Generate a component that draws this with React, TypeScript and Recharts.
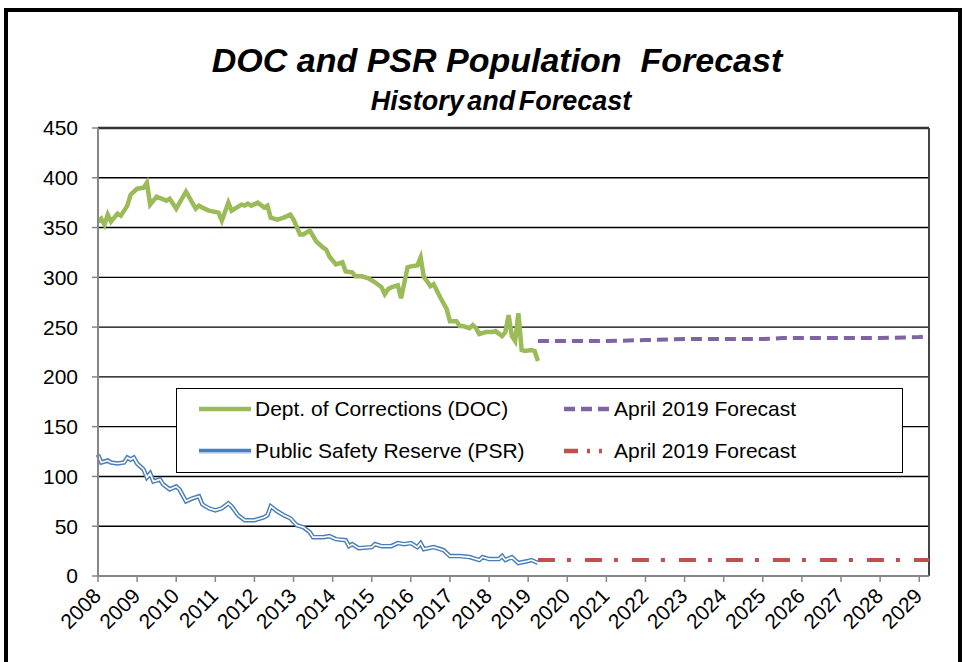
import { CartesianGrid, Line, LineChart, ReferenceLine, XAxis, YAxis } from "recharts";

const FONT = '"Liberation Sans", Arial, sans-serif';
const GREEN = "#9BBB59";
const BLUE = "#4A7EBB";
const PURPLE = "#8064A2";
const RED = "#C0504D";
const AXIS = "#878787";

// Dept. of Corrections, monthly history
const docMonths = [
  "2008-01", "2008-02", "2008-03", "2008-04", "2008-05", "2008-07", "2008-08", "2008-10", "2008-11",
  "2009-01", "2009-03", "2009-04", "2009-05", "2009-07", "2009-10", "2009-11",
  "2010-01", "2010-04", "2010-07", "2010-08", "2010-09", "2010-11",
  "2011-02", "2011-03", "2011-05", "2011-06", "2011-09", "2011-10", "2011-11", "2011-12",
  "2012-02", "2012-04", "2012-05", "2012-06", "2012-08", "2012-10", "2012-12",
  "2013-01", "2013-03", "2013-04", "2013-06", "2013-08", "2013-10", "2013-11", "2013-12",
  "2014-02", "2014-04", "2014-05", "2014-07", "2014-08", "2014-10", "2014-12",
  "2015-02", "2015-04", "2015-05", "2015-06", "2015-07", "2015-09", "2015-10", "2015-12",
  "2016-01", "2016-03", "2016-04", "2016-05", "2016-06", "2016-07", "2016-08", "2016-10", "2016-12",
  "2017-01", "2017-03", "2017-04", "2017-05", "2017-07", "2017-08", "2017-09", "2017-10", "2017-12",
  "2018-02", "2018-03", "2018-05", "2018-06", "2018-07", "2018-08", "2018-09", "2018-10", "2018-11", "2018-12",
  "2019-02", "2019-03", "2019-04",
];
const docValues = [
  356, 359, 353, 363, 356, 364, 362, 372, 383,
  389, 390, 395, 373, 381, 377, 379,
  369, 386, 369, 372, 370, 367,
  365, 357, 375, 367, 373, 372, 374, 372,
  375, 370, 372, 360, 358, 360, 363,
  358, 343, 343, 347, 336, 330, 328, 321,
  313, 315, 306, 305, 301, 301, 299,
  295, 290, 283, 288, 290, 292, 279, 310,
  311, 312, 320, 300, 296, 291, 293, 280, 268,
  256, 256, 251, 251, 249, 252, 249, 243, 245,
  245, 246, 241, 245, 262, 241, 236, 264, 227, 226,
  227, 226, 216,
];

// Public Safety Reserve, monthly history
const psrMonths = [
  "2008-01", "2008-02", "2008-04", "2008-05", "2008-07", "2008-09", "2008-10", "2008-11", "2008-12",
  "2009-01", "2009-03", "2009-04", "2009-05", "2009-06", "2009-08", "2009-09", "2009-11",
  "2010-01", "2010-02", "2010-04", "2010-06", "2010-08", "2010-09", "2010-11",
  "2011-01", "2011-03", "2011-05", "2011-06", "2011-08", "2011-10",
  "2012-01", "2012-04", "2012-05", "2012-06", "2012-08", "2012-10", "2012-12",
  "2013-02", "2013-04", "2013-06", "2013-07", "2013-10", "2013-12",
  "2014-02", "2014-05", "2014-06", "2014-07", "2014-09",
  "2015-01", "2015-02", "2015-04", "2015-07", "2015-09", "2015-11",
  "2016-01", "2016-03", "2016-04", "2016-05", "2016-08", "2016-11",
  "2017-01", "2017-04", "2017-07", "2017-10", "2017-11",
  "2018-01", "2018-04", "2018-05", "2018-06", "2018-08", "2018-10",
  "2019-01", "2019-02", "2019-04",
];
const psrValues = [
  122, 114, 116, 114, 113, 114, 119, 117, 119,
  113, 107, 99, 103, 95, 97, 92, 87,
  90, 87, 75, 78, 80, 72, 68,
  66, 68, 73, 70, 61, 56,
  56, 59, 61, 70, 65, 61, 58,
  51, 49, 44, 39, 39, 40,
  37, 36, 30, 32, 28,
  29, 32, 30, 30, 33, 32,
  33, 29, 33, 27, 29, 26,
  20, 20, 19, 16, 19,
  17, 17, 20, 16, 19, 13,
  15, 16, 13,
];

// April 2019 forecasts
const docForecastMonths = [
  "2019-04", "2020-01", "2021-01", "2022-01", "2023-01", "2024-01", "2025-01",
  "2025-07", "2026-01", "2027-01", "2028-01", "2029-01", "2029-04",
];
const docForecastValues = [236, 236, 236, 237, 238, 238, 238, 239, 239, 239, 239, 240, 241];

const psrForecastMonths = [
  "2019-04", "2020-01", "2021-01", "2022-01", "2023-01", "2024-01", "2025-01",
  "2026-01", "2027-01", "2028-01", "2029-01", "2029-04",
];
const psrForecastValues = [16, 16, 16, 16, 16, 16, 16, 16, 16, 16, 16, 16];

const yearTicks = [
  2008, 2009, 2010, 2011, 2012, 2013, 2014, 2015, 2016, 2017, 2018,
  2019, 2020, 2021, 2022, 2023, 2024, 2025, 2026, 2027, 2028, 2029,
];
const valueTicks = [0, 50, 100, 150, 200, 250, 300, 350, 400, 450];

const X_END = "2029-04";

function toYear(m: string): number {
  const [y, mo] = m.split("-").map(Number);
  return y + (mo - 1) / 12;
}

function serie(months: string[], values: number[]) {
  return months.map((m, i) => ({ t: toYear(m), v: values[i] }));
}

const doc = serie(docMonths, docValues);
const psr = serie(psrMonths, psrValues);
const docFc = serie(docForecastMonths, docForecastValues);
const psrFc = serie(psrForecastMonths, psrForecastValues);

function YearTick({ x, y, payload }: any) {
  const ax = x - 1;
  const ay = y + 8;
  return (
    <text
      x={ax}
      y={ay}
      transform={`rotate(-45 ${ax} ${ay})`}
      textAnchor="end"
      dominantBaseline="central"
      fontSize={21}
      fontFamily={FONT}
      fill="#000"
    >
      {payload.value}
    </text>
  );
}

function Amostra({ cor, dupla }: { cor: string; dupla?: boolean }) {
  return (
    <svg width={56} height={10} style={{ display: "block" }}>
      <line x1={2} y1={5} x2={54} y2={5} stroke={cor} strokeWidth={4.5} />
      {dupla && <line x1={2} y1={6.5} x2={54} y2={6.5} stroke="#a9c4e6" strokeWidth={1} />}
    </svg>
  );
}

function ItemLegenda({
  left,
  top,
  texto,
  children,
}: {
  left: number;
  top: number;
  texto: string;
  children: React.ReactNode;
}) {
  return (
    <div style={{ position: "absolute", left, top, display: "flex", alignItems: "center" }}>
      {children}
      <span style={{ fontSize: 21, marginLeft: 2, whiteSpace: "nowrap" }}>{texto}</span>
    </div>
  );
}

export default function App() {
  return (
    <div
      style={{
        position: "absolute",
        left: 0,
        top: 0,
        width: 966,
        height: 662,
        background: "#fff",
        overflow: "hidden",
        fontFamily: FONT,
      }}
    >
      <div
        style={{
          position: "absolute",
          left: 4,
          top: 8,
          width: 950,
          height: 700,
          border: "4px solid #000",
        }}
      />
      <div
        style={{
          position: "absolute",
          left: 0,
          width: 994,
          top: 41,
          textAlign: "center",
          fontSize: 34,
          fontWeight: "bold",
          fontStyle: "italic",
        }}
      >
        DOC and PSR Population&nbsp; Forecast
      </div>
      <div
        style={{
          position: "absolute",
          left: 0,
          width: 1002,
          top: 86,
          textAlign: "center",
          fontSize: 27,
          fontWeight: "bold",
          fontStyle: "italic",
          wordSpacing: -4,
        }}
      >
        History and Forecast
      </div>

      <div style={{ position: "absolute", left: 0, top: 0 }}>
        <LineChart width={966} height={662} margin={{ top: 128, right: 37, bottom: 26, left: 38 }}>
          <CartesianGrid horizontal vertical={false} stroke="#000" strokeWidth={1.4} />
          <XAxis
            type="number"
            dataKey="t"
            domain={[2008, toYear(X_END)]}
            ticks={yearTicks}
            interval={0}
            height={60}
            tick={<YearTick />}
            tickSize={6}
            tickLine={{ stroke: AXIS, strokeWidth: 1.5 }}
            axisLine={{ stroke: AXIS, strokeWidth: 2 }}
          />
          <YAxis
            type="number"
            domain={[0, 450]}
            ticks={valueTicks}
            interval={0}
            width={60}
            tickSize={6}
            tickMargin={14}
            tick={{ fontSize: 21, fill: "#000", fontFamily: FONT }}
            tickLine={{ stroke: AXIS, strokeWidth: 1.5 }}
            axisLine={{ stroke: AXIS, strokeWidth: 2 }}
          />
          <ReferenceLine y={450} stroke="#333" strokeWidth={2.5} />
          <ReferenceLine x={toYear(X_END)} stroke="#444" strokeWidth={2} />
          <Line
            data={doc}
            dataKey="v"
            stroke={GREEN}
            strokeWidth={4.5}
            dot={false}
            activeDot={false}
            isAnimationActive={false}
          />
          <Line
            data={psr}
            dataKey="v"
            stroke={BLUE}
            strokeWidth={4.5}
            dot={false}
            activeDot={false}
            isAnimationActive={false}
          />
          <Line
            data={psr}
            dataKey="v"
            stroke="#fff"
            strokeWidth={1.6}
            dot={false}
            activeDot={false}
            isAnimationActive={false}
          />
          <Line
            data={docFc}
            dataKey="v"
            stroke={PURPLE}
            strokeWidth={4}
            strokeDasharray="11 6"
            dot={false}
            activeDot={false}
            isAnimationActive={false}
          />
          <Line
            data={psrFc}
            dataKey="v"
            stroke={RED}
            strokeWidth={4}
            strokeDasharray="17 12 4 14"
            dot={false}
            activeDot={false}
            isAnimationActive={false}
          />
        </LineChart>
      </div>

      <div
        style={{
          position: "absolute",
          left: 176,
          top: 388,
          width: 725,
          height: 83,
          border: "1.5px solid #000",
          background: "#fff",
        }}
      >
        <ItemLegenda left={20} top={8} texto="Dept. of Corrections (DOC)">
          <Amostra cor={GREEN} />
        </ItemLegenda>
        <ItemLegenda left={20} top={50} texto="Public Safety Reserve (PSR)">
          <Amostra cor={BLUE} dupla />
        </ItemLegenda>
        <ItemLegenda left={385} top={8} texto="April 2019 Forecast">
          <svg width={50} height={10} style={{ display: "block" }}>
            <line x1={2} y1={5} x2={48} y2={5} stroke={PURPLE} strokeWidth={4.5} strokeDasharray="11 6" />
          </svg>
        </ItemLegenda>
        <ItemLegenda left={385} top={50} texto="April 2019 Forecast">
          <svg width={50} height={10} style={{ display: "block" }}>
            <line x1={2} y1={5} x2={48} y2={5} stroke={RED} strokeWidth={4.5} strokeDasharray="14 9 3 9 3 10" />
          </svg>
        </ItemLegenda>
      </div>
    </div>
  );
}
